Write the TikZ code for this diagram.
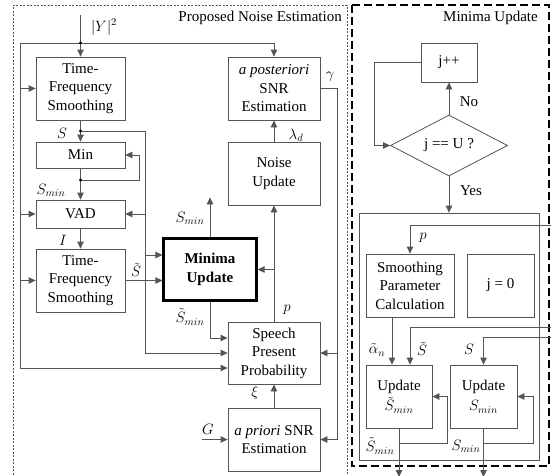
\documentclass[tikz,border=0pt]{standalone}
\usepackage{fix-cm}
\usepackage{fontspec}
\setmainfont{Liberation Serif}
\usetikzlibrary{shapes.geometric,arrows.meta,calc}
\definecolor{lc}{RGB}{85,85,85}
\begin{document}
\begin{tikzpicture}[x=1pt,y=-1pt,
  font=\fontsize{15}{18.5}\selectfont,
  blk/.style={draw=lc,line width=0.8pt,align=center,inner sep=0pt},
  lbl/.style={inner sep=0pt},
  conn/.style={draw=lc,line width=0.8pt},
  arr/.style={conn,-{Triangle[length=7pt,width=6.5pt]}},
  jdot/.style={circle,fill=black,inner sep=0pt,minimum size=3.2pt}]
\useasboundingbox (0,0) rectangle (551,475);

% frames
\draw[lc,line width=0.6pt,dash pattern=on 2pt off 1.5pt] (13,478) -- (13,5) -- (347,5) -- (347,478);
\draw[black,line width=2.6pt,dash pattern=on 8pt off 4pt] (352,5) rectangle (549,466);
\node[lbl,anchor=east] (t1) at (342,18) {Proposed Noise Estimation};
\node[lbl,anchor=east] (t2) at (538,18) {Minima Update};

% left panel blocks
\node[blk,minimum width=89pt,minimum height=63pt] (tf1) at (80.5,88.5) {Time-\\Frequency\\Smoothing};
\node[blk,minimum width=89pt,minimum height=26pt] (mn) at (80.5,155) {Min};
\node[blk,minimum width=89pt,minimum height=28pt] (vad) at (80.5,214) {VAD};
\node[blk,minimum width=89pt,minimum height=63pt] (tf2) at (80.5,280.5) {Time-\\Frequency\\Smoothing};
\node[draw=black,line width=2.2pt,align=center,inner sep=0pt,minimum width=93pt,minimum height=62pt,font=\fontsize{15}{18.5}\selectfont\bfseries] (mu) at (210,269.5) {Minima\\Update};
\node[blk,minimum width=92pt,minimum height=63pt] (apost) at (274,88.5) {\textit{a posteriori}\\SNR\\Estimation};
\node[blk,minimum width=92pt,minimum height=63pt] (nu) at (274,173.5) {Noise\\Update};
\node[blk,minimum width=92pt,minimum height=62pt] (spp) at (274,353) {Speech\\Present\\Probability};
\node[blk,minimum width=92pt,minimum height=63pt] (apri) at (274,439.5) {\textit{a priori} SNR\\Estimation};

% left panel connectors
\coordinate (yin) at (80.5,15);
\coordinate (d1) at (80.5,43);
\coordinate (L1) at (20,43);
\coordinate (L2) at (20,368);
\draw[conn] (yin) -- (d1);
\draw[arr] (d1) -- (tf1.north);
\draw[arr] (d1) -| (apost.north);
\draw[conn] (d1) -- (L1) -- (L2);
\draw[arr] (L2) -- (spp.west |- L2);
\draw[arr] (L1 |- tf1.west) -- (tf1.west);
\draw[arr] (L1 |- vad.west) -- (vad.west);
\draw[arr] (L1 |- tf2.west) -- (tf2.west);
\node[jdot] (dot1) at (d1) {};

\coordinate (dS) at (80.5,131);
\coordinate (R1) at (145,131);
\coordinate (R2) at (145,353);
\draw[arr] (tf1.south) -- (mn.north);
\draw[conn] (dS) -- (R1) -- (R2);
\draw[arr] (R2) -- (spp.west |- R2);
\draw[arr] (R1 |- vad.east) -- (vad.east);
\draw[arr] ($(R1 |- mu.west)+(0,-14.5)$) -- ($(mu.west)+(0,-14.5)$);
\node[jdot] (dot2) at (dS) {};

\coordinate (dM) at (80.5,180);
\draw[arr] (mn.south) -- (vad.north);
\draw[arr] (dM) -| ($(mn.east)+(14,0)$) -- (mn.east);
\node[jdot] (dot3) at (dM) {};

\draw[arr] (vad.south) -- (tf2.north);
\draw[arr] (tf2.east) -- (tf2.east -| mu.west);

\draw[arr] (mu.north) -- ++(0,-40);
\draw[arr] (mu.south) |- ($(spp.west)+(0,-15)$);
\draw[arr] (spp.north) -- (nu.south);
\draw[arr] (spp.north |- mu.east) -- (mu.east);
\draw[arr] (nu.north) -- (apost.south);
\draw[arr] (apri.north) -- (spp.south);
\coordinate (G) at (202,439.5);
\draw[arr] (G) -- (apri.west);
\coordinate (g1) at (337,88.5);
\draw[arr] (apost.east) -- (g1) |- (apri.east);
\draw[arr] (g1 |- spp.east) -- (spp.east);

% left labels
\node[lbl] (lY) at (104,27) {$|Y|^2$};
\node[lbl] (lS) at (62,133) {$S$};
\node[lbl] (lSm) at (51,190) {$S_{min}$};
\node[lbl] (lI) at (63,240) {$I$};
\node[lbl] (lSt) at (136,270) {$\tilde S$};
\node[lbl] (lmS) at (190,218) {$S_{min}$};
\node[lbl] (lmSt) at (190,317) {$\tilde S_{min}$};
\node[lbl] (lp) at (287,310) {$p$};
\node[lbl] (lxi) at (255,393) {$\xi$};
\node[lbl] (lG) at (208,429) {$G$};
\node[lbl] (lg) at (330,77) {$\gamma$};
\node[lbl] (lld) at (296,135) {$\lambda_d$};

% right panel
\node[blk,minimum width=56pt,minimum height=39pt] (jpp) at (449,62.5) {j++};
\node[draw=lc,line width=0.8pt,diamond,aspect=1.92,inner sep=0pt,minimum width=117pt,minimum height=61pt] (dia) at (449,145.5) {j == U ?};
\node[draw=lc,line width=0.8pt,minimum width=180pt,minimum height=247pt,inner sep=0pt] (inner) at (449,336.5) {};
\node[blk,minimum width=88pt,minimum height=63pt] (spc) at (410,285.5) {Smoothing\\Parameter\\Calculation};
\node[blk,minimum width=67pt,minimum height=63pt] (j0) at (500.5,285.5) {j = 0};
\node[blk,minimum width=66pt,minimum height=63pt] (ust) at (399,396.5) {Update\\[2pt]$\tilde S_{min}$};
\node[blk,minimum width=67pt,minimum height=63pt] (usm) at (483.5,396.5) {Update\\[2pt]$S_{min}$};

\draw[arr] (dia.north) -- (jpp.south);
\draw[arr] (jpp.west) -- ++(-46,0) |- (dia.west);
\draw[arr] (dia.south) -- (dia.south |- inner.north);

\coordinate (pin) at (552,225);
\coordinate (stin) at (552,327);
\coordinate (sin) at (552,337);
\draw[arr] (pin) -| (spc.north);
\draw[arr] (stin) -| ($(ust.north)+(11,0)$);
\draw[arr] ($(spc.south)+(-18,0)$) -- ($(ust.north)+(-7,0)$);
\draw[arr] (sin) -| (usm.north);

\coordinate (o1) at (399,477);
\coordinate (o2) at (483.5,477);
\draw[arr] (ust.south) -- (o1);
\draw[arr] (usm.south) -- (o2);
\draw[arr] ($(ust.south)+(0,15)$) -| ($(ust.east)+(15,0)$) -- (ust.east);
\draw[arr] ($(usm.south)+(0,15)$) -| ($(usm.east)+(16,0)$) -- (usm.east);

\node[lbl] (lno) at (469,102) {No};
\node[lbl] (lyes) at (471,191) {Yes};
\node[lbl] (lp2) at (423,238) {$p$};
\node[lbl] (lal) at (377,350) {$\tilde\alpha_n$};
\node[lbl] (lst2) at (422,349) {$\tilde S$};
\node[lbl] (ls2) at (469,349) {$S$};
\node[lbl] (lstm) at (380,446) {$\tilde S_{min}$};
\node[lbl] (lsm2) at (466,446) {$S_{min}$};
\end{tikzpicture}
\end{document}
